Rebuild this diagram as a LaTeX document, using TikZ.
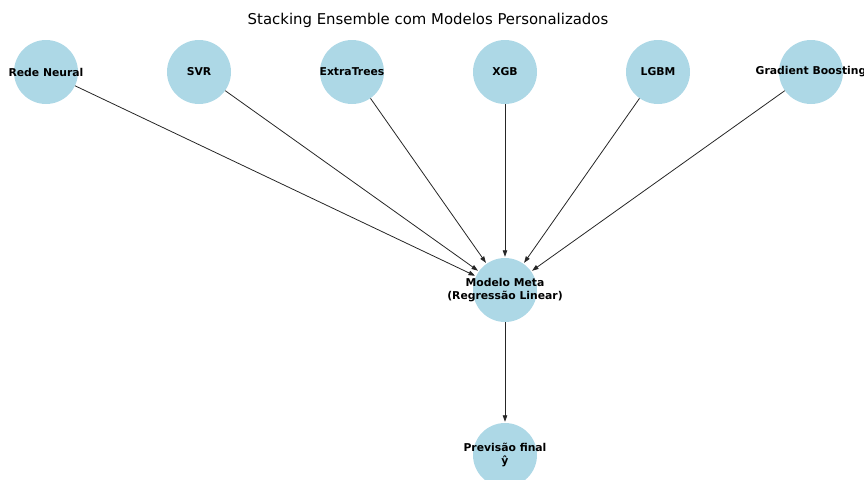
\documentclass[tikz,border=0pt]{standalone}
\usepackage{fontspec}
\setmainfont{DejaVu Sans}
\usetikzlibrary{arrows.meta}
\definecolor{nodeblue}{RGB}{173,216,230}

\begin{document}
\begin{tikzpicture}[x=1pt,y=-1pt]
				\tikzstyle{model}=[circle,fill=nodeblue,draw=none,minimum size=64pt,inner sep=0pt]
				\tikzstyle{lbl}=[font=\bfseries\fontsize{10.8}{12.5}\selectfont,align=center,inner sep=0pt]
				\tikzstyle{edge}=[-{Triangle[length=6.5pt,width=4.5pt]},line width=0.8pt,draw=black!85,shorten >=1pt]

				\clip (0,0) rectangle (864,479);
				\node (title) at (428,20) {\fontsize{14.9}{16}\selectfont Stacking Ensemble com Modelos Personalizados};

				% modelos base
				\node (rn) [model, label={[lbl]center:Rede Neural}] at (46,72) {};
				\node (svr) [model, label={[lbl]center:SVR}] at (199,72) {};
				\node (et) [model, label={[lbl]center:ExtraTrees}] at (352,72) {};
				\node (xgb) [model, label={[lbl]center:XGB}] at (505,72) {};
				\node (lgbm) [model, label={[lbl]center:LGBM}] at (658,72) {};
				\node (gb) [model, label={[lbl]center:Gradient Boosting}] at (811,72) {};

				% meta modelo e saida
				\node (meta) [model, label={[lbl]center:Modelo Meta\\(Regressão Linear)}] at (505,290) {};
				\node (pred) [model, label={[lbl]center:Previsão final\\ŷ}] at (505,455) {};

				\foreach \m in {rn,svr,et,xgb,lgbm,gb}
					\draw[edge] (\m) -- (meta);
				\draw[edge] (meta) -- (pred);
			\end{tikzpicture}
\end{document}
